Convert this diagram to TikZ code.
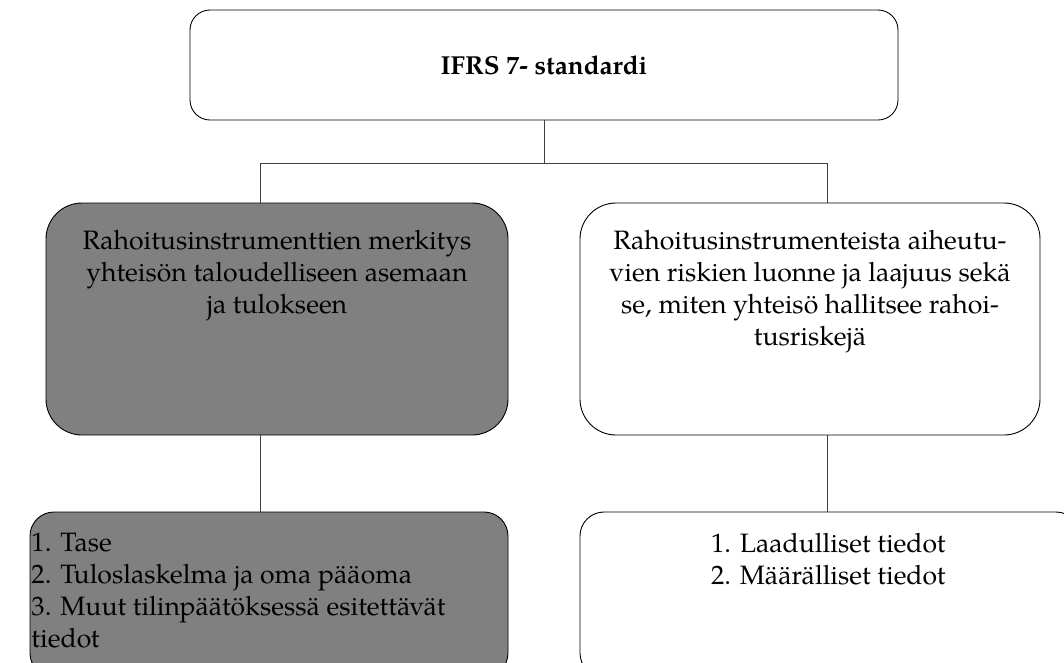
\documentclass[tikz,border=0pt]{standalone}
\usepackage{fontspec}
\setmainfont{texgyrepagella}[Extension=.otf,UprightFont=*-regular,BoldFont=*-bold,ItalicFont=*-italic,BoldItalicFont=*-bolditalic]
\definecolor{boxgray}{RGB}{128,128,128}
\definecolor{linegray}{RGB}{64,64,64}
\newcommand{\boxtext}[4]{\begin{minipage}[c][#2][t]{#1}\vspace*{#3}#4\end{minipage}}
\tikzset{
  box/.style={draw=black, line width=0.9pt, inner sep=0pt, outer sep=0pt, anchor=north west, font=\fontsize{26.6}{32}\selectfont},
  link/.style={draw=linegray, line width=0.9pt},
}
\begin{document}
\begin{tikzpicture}[x=1pt,y=-1pt]
\useasboundingbox (0,0) rectangle (1064,662);
\node[box, rounded corners=20pt, minimum width=708pt, minimum height=110pt, font=\fontsize{26}{32}\selectfont\bfseries] (top) at (190,10) {IFRS 7- standardi};
\node[box, fill=boxgray, rounded corners=36pt] (lm) at (46,203) {\boxtext{462pt}{232pt}{27pt}{\centering Rahoitusinstrumenttien merkitys\\ yhteisön taloudelliseen asemaan\\ ja tulokseen\par}};
\node[box, rounded corners=36pt] (rm) at (580,203) {\boxtext{460pt}{232pt}{27pt}{\centering Rahoitusinstrumenteista aiheutu-\\ vien riskien luonne ja laajuus sekä\\ se, miten yhteisö hallitsee rahoi-\\ tusriskejä\par}};
\node[box, fill=boxgray, rounded corners=24pt] (lb) at (30,512) {\boxtext{478pt}{165pt}{21pt}{\raggedright\leftskip=1.5pt 1. Tase\\ 2. Tuloslaskelma ja oma pääoma\\ 3. Muut tilinpäätöksessä esitettävät\\ tiedot\par}};
\node[box, rounded corners=24pt] (rb) at (580,512) {\boxtext{500pt}{165pt}{21pt}{\raggedright\leftskip=131pt 1. Laadulliset tiedot\\ 2. Määrälliset tiedot\par}};
\coordinate (jl) at (260,163);
\coordinate (jr) at (827,163);
\draw[link] (top.south) -- (top.south |- jl);
\draw[link] (lm.north -| jl) -- (jl) -- (jr) -- (rm.north -| jr);
\draw[link] (lm.south -| jl) -- (lb.north -| jl);
\draw[link] (rm.south -| jr) -- (rb.north -| jr);
\end{tikzpicture}
\end{document}
